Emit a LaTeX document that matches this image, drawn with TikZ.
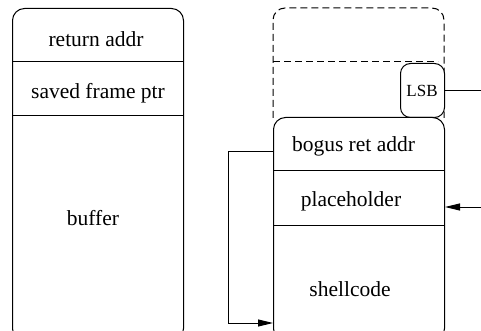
\documentclass[tikz,border=0pt]{standalone}
\usepackage{fontspec}
\setmainfont{Liberation Serif}
\usetikzlibrary{arrows.meta}
\begin{document}
\begin{tikzpicture}[x=1pt,y=-1pt,
  line width=1pt,
  lbl/.style={font=\rmfamily\fontsize{21.5}{23}\selectfont, inner sep=0pt, anchor=base},
  boxstyle/.style={draw, rounded corners=12pt, minimum width=171pt, anchor=north west, inner sep=0pt},
  arr/.style={-{Triangle[length=15pt,width=7pt]}},
  dsh/.style={dash pattern=on 7pt off 4pt}]
\clip (0,0) rectangle (481,331);
% left stack
\node[boxstyle, minimum height=332pt] (lbox) at (12,8) {};
\draw (lbox.west |- 0,62) -- (lbox.east |- 0,62);
\draw (lbox.west |- 0,116) -- (lbox.east |- 0,116);
\node[lbl] (ret) at (96,46.5) {return addr};
\node[lbl] (sfp) at (98,99) {saved frame ptr};
\node[lbl] (buf) at (93,225) {buffer};
% dashed old frame
\draw[dsh, rounded corners=12pt] (273,118) -- (273,8) -- (444,8) -- (444,118);
\draw[dsh] (273,62) -- (438,62);
% LSB
\node[draw, rounded corners=10pt, minimum width=44pt, minimum height=54pt, anchor=north west, inner sep=0pt, fill=white] (lsb) at (400,63) {};
\node[font=\rmfamily\fontsize{17}{18}\selectfont, inner sep=0pt, anchor=base] (lsbt) at (422,97) {LSB};
% right stack
\node[boxstyle, minimum height=223pt, fill=white] (rbox) at (273,117) {};
\draw (rbox.west |- 0,170) -- (rbox.east |- 0,170);
\draw (rbox.west |- 0,225) -- (rbox.east |- 0,225);
\node[lbl] (bogus) at (353.5,152) {bogus ret addr};
\node[lbl] (ph) at (351,206.5) {placeholder};
\node[lbl] (sc) at (350,296.5) {shellcode};
% connectors
\coordinate (edge) at (481,0);
\coordinate (phin) at (481,207);
\draw (lsb.east) -- (lsb.east -| edge);
\draw[arr] (phin) -- (phin -| rbox.east);
\draw[arr] ([yshift=-35pt]rbox.north west) -- ++(-45,0) |- ([yshift=-206pt]rbox.north west);
\end{tikzpicture}
\end{document}
